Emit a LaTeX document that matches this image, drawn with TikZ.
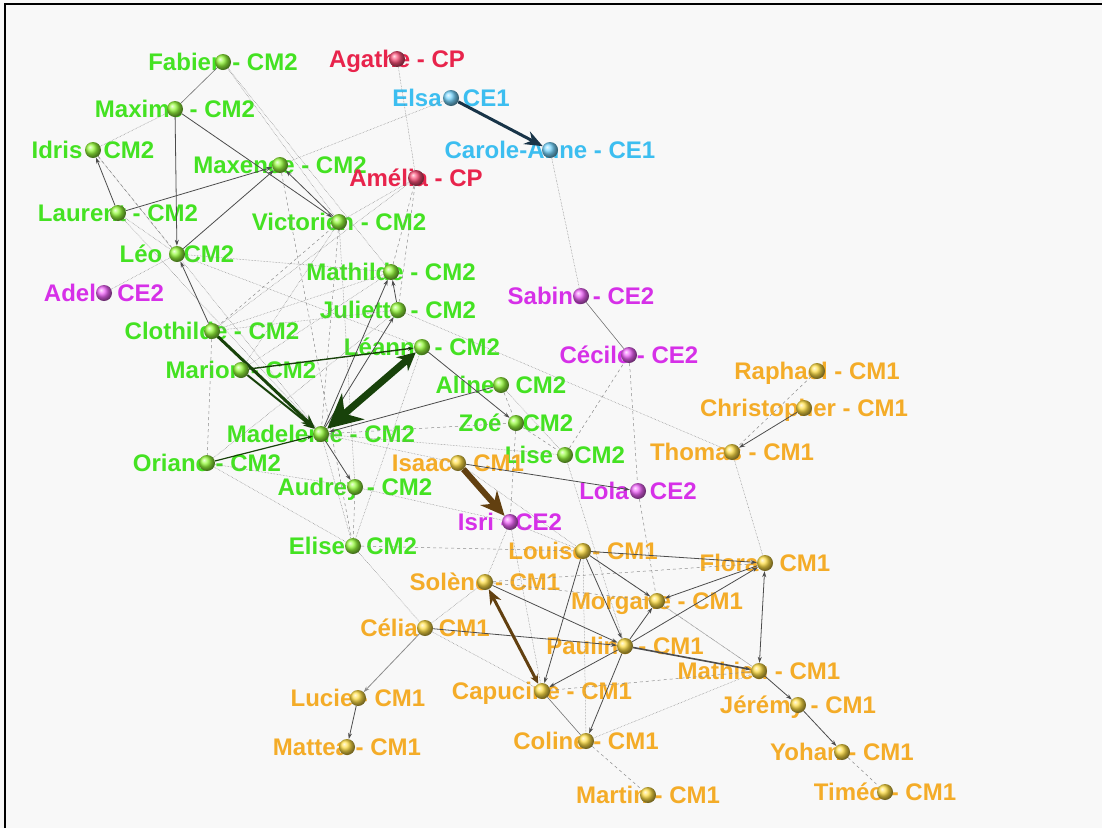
\documentclass[tikz,border=0pt]{standalone}
\usepackage{fontspec}
\setmainfont{Liberation Sans}
\usetikzlibrary{arrows.meta}

\definecolor{vertb}{RGB}{68,226,34}
\definecolor{orangeb}{RGB}{244,172,40}
\definecolor{mauveb}{RGB}{214,48,232}
\definecolor{bleub}{RGB}{60,190,240}
\definecolor{rougeb}{RGB}{232,36,76}
\definecolor{boulevert}{RGB}{150,250,60}
\definecolor{boulejaune}{RGB}{255,222,70}
\definecolor{boulemauve}{RGB}{240,100,250}
\definecolor{boulebleu}{RGB}{120,215,255}
\definecolor{boulerouge}{RGB}{250,80,120}
\definecolor{fond}{RGB}{248,248,248}
\definecolor{vertfonce}{RGB}{24,66,10}
\definecolor{brun}{RGB}{98,64,16}
\definecolor{marine}{RGB}{24,52,72}

\pgfdeclarelayer{back}
\pgfdeclarelayer{mid}
\pgfsetlayers{back,mid,main}

\tikzset{
  pers/.style={circle, minimum size=16pt, inner sep=0pt, shade},
  lab/.style={font=\bfseries\fontsize{24}{24}\selectfont, anchor=base, yshift=-8pt, inner sep=0pt},
  choice/.style={draw=black!70, line width=0.8pt, -{Stealth[length=6pt,width=4pt]}},
  plain/.style={draw=black!55, line width=0.6pt},
  faint/.style={draw=black!50, line width=0.5pt, densely dotted},
  faintdash/.style={draw=black!45, line width=0.5pt, dashed},
}

\begin{document}
\begin{tikzpicture}[x=1pt, y=-1pt]
  \useasboundingbox (0,0) rectangle (1102,828);
  \begin{pgfonlayer}{back}
    \fill[fond] (0,0) rectangle (1102,828);
    \draw[line width=1.2pt] (5,828) -- (5,4) -- (1102,4);
  \end{pgfonlayer}

  % CM2
  \foreach \who/\x/\y/\what in {fabien/223/62/Fabien - CM2, maxime/175/109/Maxime - CM2,
      idris/93/150/Idris - CM2, maxence/280/165/Maxence - CM2, laurent/118/213/Laurent - CM2,
      leo/177/254/Léo - CM2, victorien/339/222/Victorien - CM2, mathilde/391/272/Mathilde - CM2,
      juliette/398/310/Juliette - CM2, clothilde/212/331/Clothilde - CM2, leanne/422/347/Léanne - CM2,
      marion/241/370/Marion - CM2, aline/501/385/Aline - CM2, zoe/516/423/Zoé - CM2,
      madeleine/321/434/Madeleine - CM2, oriane/207/463/Oriane - CM2, lise/565/455/Lise - CM2,
      audrey/355/487/Audrey - CM2, elise/353/546/Elise - CM2}{
    \node[pers, ball color=boulevert] (\who) at (\x,\y) {};
    \begin{pgfonlayer}{back}\node[lab, text=vertb] at (\who) {\what};\end{pgfonlayer}
  }
  % CE2
  \foreach \who/\x/\y/\what in {adel/104/293/Adel - CE2, sabine/581/296/Sabine - CE2,
      cecile/629/355/Cécile - CE2, lola/638/491/Lola - CE2, isri/510/522/Isri - CE2}{
    \node[pers, ball color=boulemauve] (\who) at (\x,\y) {};
    \begin{pgfonlayer}{back}\node[lab, text=mauveb] at (\who) {\what};\end{pgfonlayer}
  }
  % CE1
  \foreach \who/\x/\y/\what in {elsa/451/98/Elsa - CE1, carole/550/150/Carole-Anne - CE1}{
    \node[pers, ball color=boulebleu] (\who) at (\x,\y) {};
    \begin{pgfonlayer}{back}\node[lab, text=bleub] at (\who) {\what};\end{pgfonlayer}
  }
  % CP
  \foreach \who/\x/\y/\what in {agathe/397/59/Agathe - CP, amelia/416/178/Amélia - CP}{
    \node[pers, ball color=boulerouge] (\who) at (\x,\y) {};
    \begin{pgfonlayer}{back}\node[lab, text=rougeb] at (\who) {\what};\end{pgfonlayer}
  }
  % CM1
  \foreach \who/\x/\y/\what in {raphael/817/371/Raphael - CM1, christopher/804/408/Christopher - CM1,
      thomas/732/452/Thomas - CM1, isaac/458/463/Isaac - CM1, louise/583/551/Louise - CM1,
      flora/765/563/Flora - CM1, solene/485/582/Solène - CM1, morgane/657/601/Morgane - CM1,
      celia/425/628/Célia - CM1, pauline/625/646/Pauline - CM1, mathieu/759/671/Mathieu - CM1,
      capucine/542/691/Capucine - CM1, jeremy/798/705/Jérémy - CM1, lucie/358/698/Lucie - CM1,
      mattea/347/747/Mattea - CM1, coline/586/741/Coline - CM1, yohan/842/752/Yohan - CM1,
      martin/648/795/Martin - CM1, timeo/885/792/Timéo - CM1}{
    \node[pers, ball color=boulejaune] (\who) at (\x,\y) {};
    \begin{pgfonlayer}{back}\node[lab, text=orangeb] at (\who) {\what};\end{pgfonlayer}
  }

  \begin{pgfonlayer}{mid}
    % weak links
    \draw[faint] (maxime) -- (idris);
    \draw[faint] (fabien) -- (victorien);
    \draw[faint] (fabien) -- (mathilde);
    \draw[faintdash] (idris) -- (leo);
    \draw[faint] (idris) -- (madeleine);
    \draw[faint] (laurent) -- (leo);
    \draw[faint] (laurent) -- (madeleine);
    \draw[faint] (adel) -- (leo);
    \draw[faint] (elsa) -- (maxence);
    \draw[faint] (agathe) -- (amelia);
    \draw[faint] (carole) -- (sabine);
    \draw[faint] (amelia) -- (victorien);
    \draw[faintdash] (amelia) -- (mathilde);
    \draw[faintdash] (amelia) -- (juliette);
    \draw[faint] (amelia) -- (clothilde);
    \draw[faintdash] (maxence) -- (elise);
    \draw[faintdash] (victorien) -- (clothilde);
    \draw[faint] (victorien) -- (marion);
    \draw[faintdash] (victorien) -- (madeleine);
    \draw[faint] (victorien) -- (audrey);
    \draw[faint] (mathilde) -- (marion);
    \draw[faint] (mathilde) -- (clothilde);
    \draw[faint] (juliette) -- (clothilde);
    \draw[faint] (juliette) -- (thomas);
    \draw[faint] (leo) -- (mathilde);
    \draw[faint] (leo) -- (leanne);
    \draw[faintdash] (clothilde) -- (oriane);
    \draw[faint] (oriane) -- (elise);
    \draw[faint] (oriane) -- (audrey);
    \draw[faint] (oriane) -- (juliette);
    \draw[faintdash] (madeleine) -- (zoe);
    \draw[faint] (madeleine) -- (isaac);
    \draw[faint] (madeleine) -- (elise);
    \draw[faint] (madeleine) -- (lise);
    \draw[faintdash] (audrey) -- (elise);
    \draw[faint] (audrey) -- (isri);
    \draw[faintdash] (elise) -- (louise);
    \draw[faint] (elise) -- (celia);
    \draw[faint] (elise) -- (leanne);
    \draw[faintdash] (aline) -- (zoe);
    \draw[faint] (aline) -- (lise);
    \draw[faintdash] (zoe) -- (isri);
    \draw[faintdash] (zoe) -- (lise);
    \draw[faintdash] (lise) -- (cecile);
    \draw[faint] (lise) -- (pauline);
    \draw[faintdash] (cecile) -- (lola);
    \draw[faintdash] (lola) -- (morgane);
    \draw[faint] (isri) -- (solene);
    \draw[faint] (isri) -- (capucine);
    \draw[faint] (isri) -- (louise);
    \draw[faint] (isaac) -- (louise);
    \draw[faint] (thomas) -- (flora);
    \draw[faintdash] (raphael) -- (thomas);
    \draw[faintdash] (solene) -- (morgane);
    \draw[faintdash] (solene) -- (flora);
    \draw[faint] (celia) -- (capucine);
    \draw[faint] (celia) -- (solene);
    \draw[faintdash] (capucine) -- (mathieu);
    \draw[faint] (coline) -- (mathieu);
    \draw[faint] (morgane) -- (mathieu);
    \draw[faint] (louise) -- (mathieu);
    \draw[faintdash] (coline) -- (martin);
    \draw[faintdash] (yohan) -- (timeo);
    \draw[faint] (louise) -- (coline);
    % choices
    \draw[plain] (fabien) -- (maxime);
    \draw[choice] (leo) -- (maxence);
    \draw[choice] (maxime) -- (leo);
    \draw[choice] (maxime) -- (victorien);
    \draw[choice] (victorien) -- (maxence);
    \draw[choice] (laurent) -- (maxence);
    \draw[choice] (laurent) -- (idris);
    \draw[choice] (clothilde) -- (leo);
    \draw[choice] (juliette) -- (mathilde);
    \draw[choice] (madeleine) -- (juliette);
    \draw[choice] (madeleine) -- (mathilde);
    \draw[choice, draw=vertfonce, line width=1.4pt] (marion) -- (leanne);
    \draw[choice] (aline) -- (madeleine);
    \draw[choice] (leanne) -- (zoe);
    \draw[choice, draw=vertfonce, line width=1.2pt] (oriane) -- (madeleine);
    \draw[choice] (madeleine) -- (audrey);
    \draw[choice] (isaac) -- (lola);
    \draw[choice] (christopher) -- (thomas);
    \draw[plain] (sabine) -- (cecile);
    \draw[choice] (louise) -- (pauline);
    \draw[choice] (louise) -- (morgane);
    \draw[choice] (louise) -- (flora);
    \draw[choice] (louise) -- (capucine);
    \draw[choice] (solene) -- (pauline);
    \draw[choice, line width=1.6pt] (pauline) -- (mathieu);
    \draw[choice] (pauline) -- (flora);
    \draw[choice] (pauline) -- (morgane);
    \draw[choice] (flora) -- (morgane);
    \draw[choice, {Stealth[length=6pt,width=4pt]}-{Stealth[length=6pt,width=4pt]}] (flora) -- (mathieu);
    \draw[choice] (pauline) -- (coline);
    \draw[choice] (pauline) -- (capucine);
    \draw[plain] (capucine) -- (coline);
    \draw[choice] (celia) -- (pauline);
    \draw[choice, draw=black!45] (celia) -- (lucie);
    \draw[choice] (lucie) -- (mattea);
    \draw[choice] (mathieu) -- (jeremy);
    \draw[choice] (jeremy) -- (yohan);
    % strong choices
    \draw[draw=marine, line width=3pt, -{Stealth[length=18pt,width=14pt]}] (elsa) -- (carole);
    \draw[draw=vertfonce, line width=7pt, {Stealth[length=34pt,width=34pt]}-{Stealth[length=18pt,width=18pt]}] (madeleine) -- (leanne);
    \draw[draw=vertfonce, line width=3pt, -{Stealth[length=14pt,width=11pt]}] (clothilde) -- (madeleine);
    \draw[draw=vertfonce, line width=2pt, -{Stealth[length=11pt,width=9pt]}] (marion) -- (madeleine);
    \draw[draw=brun, line width=6pt, -{Stealth[length=24pt,width=22pt]}] (isaac) -- (isri);
    \draw[draw=brun, line width=3pt, {Stealth[length=9pt,width=8pt]}-{Stealth[length=15pt,width=12pt]}] (capucine) -- (solene);
  \end{pgfonlayer}
\end{tikzpicture}
\end{document}
